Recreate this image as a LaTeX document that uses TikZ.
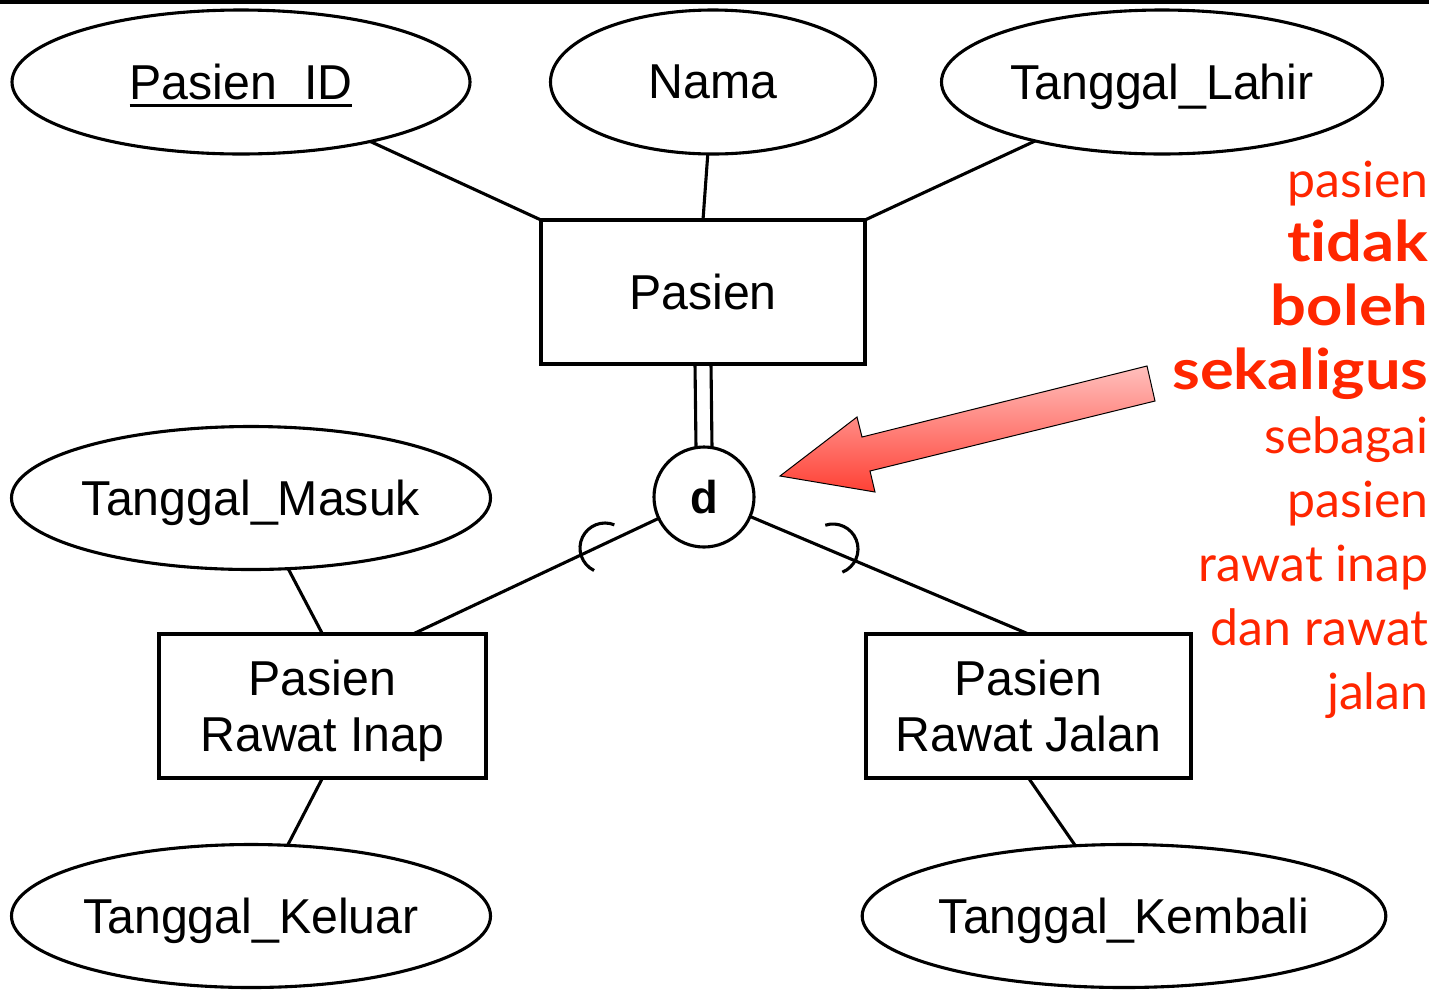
\documentclass[tikz,border=0pt]{standalone}
\usepackage{fontspec}
\setmainfont{Liberation Sans}
\newfontfamily\erfont[FakeStretch=0.985]{Liberation Sans}
\newfontfamily\notefont[Ligatures=NoCommon]{Lato}
\newfontfamily\noteboldfont[FakeStretch=1.13,Ligatures=NoCommon]{Lato}
\usetikzlibrary{shapes.geometric,calc}
\definecolor{notered}{RGB}{255,38,0}
\definecolor{arrowlight}{RGB}{255,225,225}
\definecolor{arrowdark}{RGB}{255,30,15}
\newcommand\ulpid{\setbox0\hbox{Pasien\_ID}\rlap{\rule[-7.5pt]{\wd0}{3pt}}Pasien\phantom{\_}ID}
\begin{document}
\begin{tikzpicture}[x=1pt,y=-1pt,
  line width=3.1pt,
  attr/.style={ellipse,draw,inner sep=0pt,outer sep=0pt,text depth=0pt,
    font=\erfont\fontsize{49}{56}\selectfont},
  ent/.style={rectangle,draw,inner sep=0pt,outer sep=0pt,
    minimum width=325pt,minimum height=144pt,align=center,
    font=\erfont\fontsize{49}{56}\selectfont},
  conn/.style={draw,line width=3.1pt},
  note/.style={anchor=base east,inner sep=0pt,text=notered,
    font=\notefont\fontsize{50}{64}\selectfont},
  notebold/.style={note,font=\noteboldfont\bfseries\fontsize{56}{64}\selectfont}]
\useasboundingbox (0,0) rectangle (1429,989);
\fill[black] (0,0) rectangle (1429,4);

% attributes
\node[attr,minimum width=458pt,minimum height=144pt] (pid) at (241,82) {\ulpid};
\node[attr,minimum width=325pt,minimum height=144pt] (nama) at (713,82) {Nama};
\node[attr,minimum width=441pt,minimum height=144pt] (tl) at (1162,82) {Tanggal\_Lahir};
\node[attr,minimum width=479pt,minimum height=143pt] (tm) at (251,498) {Tanggal\_Masuk};
\node[attr,minimum width=479pt,minimum height=143pt] (tk) at (251,916) {Tanggal\_Keluar};
\node[attr,minimum width=517pt,minimum height=143pt] (tkb) at (1124,916) {Tanggal\_Kembali};

% entities
\node[ent,minimum width=324pt] (pasien) at (703,292) {Pasien};
\node[ent,minimum width=327pt] (inap) at (322.5,706) {Pasien\\Rawat Ina\smash{p}};
\node[ent] (jalan) at (1028.5,706) {Pasien\\Rawat Jalan};

% disjoint circle
\node[circle,draw,minimum size=100pt,inner sep=0pt,outer sep=0pt,
  font=\erfont\bfseries\fontsize{46}{50}\selectfont] (d) at (704,497) {d};

% connectors
\draw[conn] (pasien.north west) -- (pid);
\draw[conn] (pasien.north) -- (nama);
\draw[conn] (pasien.north east) -- (tl);
\draw[conn] (inap.north) -- (tm);
\draw[conn] (inap.south) -- (tk);
\draw[conn] (jalan.south) -- (tkb);
\draw[conn] ([xshift=-8pt]pasien.south) -- ($(d.center)+(-8,-49.4)$);
\draw[conn] ([xshift=8pt]pasien.south) -- ($(d.center)+(8,-49.4)$);
\coordinate (inapin) at ([xshift=-73pt]inap.north east);
\draw[conn] (d) -- (inapin);
\draw[conn] (d) -- (jalan.north);

% subset marks
\draw[conn] (605,548) ++(116:25) arc[start angle=116,end angle=292,radius=25];
\draw[conn] (833,549) ++(68:25) arc[start angle=68,end angle=-108,radius=25];

% red arrow
\begin{scope}
  \clip (780,476) -- (857,417) -- (862,437) -- (1147,366) -- (1155,401)
    -- (870,471) -- (875,492) -- cycle;
  \shade[shift={(965.5,429.75)},rotate=14,top color=arrowlight,bottom color=arrowdark]
    (-240,-41) rectangle (240,41);
\end{scope}
\draw[line width=1pt]
  (780,476) -- (857,417) -- (862,437) -- (1147,366) -- (1155,401)
  -- (870,471) -- (875,492) -- cycle;

% note
\node[note] (n1) at (1430,197) {pasien};
\node[notebold] (n2) at (1430,261) {tidak};
\node[notebold] (n3) at (1430,325) {boleh};
\node[notebold] (n4) at (1430,389) {sekaligus};
\node[note] (n5) at (1430,453) {sebagai};
\node[note] (n6) at (1430,517) {pasien};
\node[note] (n7) at (1430,581) {rawat inap};
\node[note] (n8) at (1430,645) {dan rawat};
\node[note] (n9) at (1430,709) {jalan};
\end{tikzpicture}
\end{document}
